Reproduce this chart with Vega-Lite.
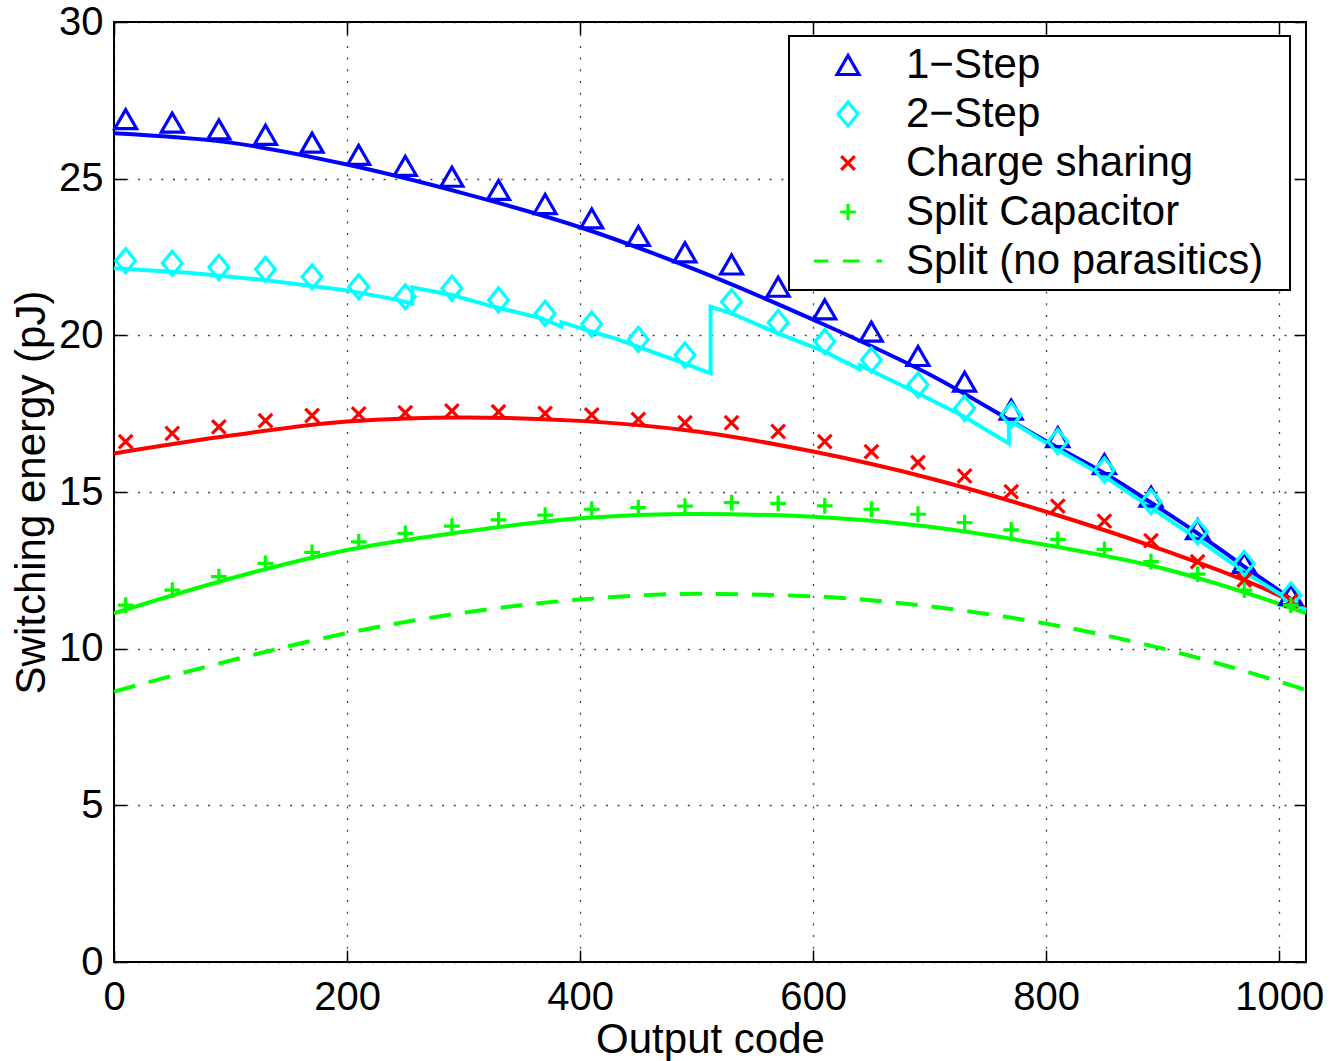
{
  "$schema": "https://vega.github.io/schema/vega-lite/v6.json",
  "width": 1192,
  "height": 940,
  "autosize": {"type": "none"},
  "padding": {"left": 114, "top": 22, "right": 24, "bottom": 99},
  "background": "#ffffff",
  "config": {
    "font": "Liberation Sans",
    "view": {"stroke": "#000000", "strokeWidth": 2},
    "axis": {
      "labelFont": "Liberation Sans", "labelFontSize": 40, "labelColor": "#000000",
      "titleFont": "Liberation Sans", "titleFontSize": 42, "titleFontWeight": "normal", "titleColor": "#000000",
      "tickColor": "#000000", "tickWidth": 1.5, "tickSize": -12,
      "domain": false, "labelFlush": false, "labelOverlap": false, "format": "d",
      "gridColor": "#000000", "gridOpacity": 0.75, "gridWidth": 1.3, "gridDash": [2, 9.7]
    },
    "legend": {"strokeWidth": 2}
  },
  "datasets": {
    "smooth": [
      {"s": "1\u2212Step", "x": 0, "y": 26.45}, {"s": "1\u2212Step", "x": 100, "y": 26.15}, {"s": "1\u2212Step", "x": 200, "y": 25.45}, {"s": "1\u2212Step", "x": 300, "y": 24.53}, {"s": "1\u2212Step", "x": 400, "y": 23.45}, {"s": "1\u2212Step", "x": 500, "y": 22.08}, {"s": "1\u2212Step", "x": 600, "y": 20.5}, {"s": "1\u2212Step", "x": 700, "y": 18.75}, {"s": "1\u2212Step", "x": 800, "y": 16.62}, {"s": "1\u2212Step", "x": 850, "y": 15.6}, {"s": "1\u2212Step", "x": 900, "y": 14.42}, {"s": "1\u2212Step", "x": 930, "y": 13.68}, {"s": "1\u2212Step", "x": 970, "y": 12.62}, {"s": "1\u2212Step", "x": 1000, "y": 11.85}, {"s": "1\u2212Step", "x": 1023, "y": 11.2},
      {"s": "Charge sharing", "x": 0, "y": 16.23}, {"s": "Charge sharing", "x": 100, "y": 16.8}, {"s": "Charge sharing", "x": 200, "y": 17.25}, {"s": "Charge sharing", "x": 300, "y": 17.38}, {"s": "Charge sharing", "x": 400, "y": 17.27}, {"s": "Charge sharing", "x": 500, "y": 16.93}, {"s": "Charge sharing", "x": 600, "y": 16.29}, {"s": "Charge sharing", "x": 700, "y": 15.44}, {"s": "Charge sharing", "x": 800, "y": 14.37}, {"s": "Charge sharing", "x": 900, "y": 13.15}, {"s": "Charge sharing", "x": 1000, "y": 11.7}, {"s": "Charge sharing", "x": 1023, "y": 11.28},
      {"s": "Split Capacitor", "x": 0, "y": 11.13}, {"s": "Split Capacitor", "x": 100, "y": 12.24}, {"s": "Split Capacitor", "x": 200, "y": 13.15}, {"s": "Split Capacitor", "x": 300, "y": 13.73}, {"s": "Split Capacitor", "x": 400, "y": 14.16}, {"s": "Split Capacitor", "x": 500, "y": 14.3}, {"s": "Split Capacitor", "x": 600, "y": 14.21}, {"s": "Split Capacitor", "x": 700, "y": 13.89}, {"s": "Split Capacitor", "x": 800, "y": 13.31}, {"s": "Split Capacitor", "x": 900, "y": 12.56}, {"s": "Split Capacitor", "x": 1000, "y": 11.43}, {"s": "Split Capacitor", "x": 1023, "y": 11.13}
    ],
    "step": [
      {"i": 0, "x": 0, "y": 22.14}, {"i": 1, "x": 64, "y": 22.0}, {"i": 2, "x": 128, "y": 21.77}, {"i": 3, "x": 197, "y": 21.45}, {"i": 4, "x": 237, "y": 21.18}, {"i": 5, "x": 256, "y": 21.02}, {"i": 6, "x": 256, "y": 21.53}, {"i": 7, "x": 290, "y": 21.29}, {"i": 8, "x": 320, "y": 20.97}, {"i": 9, "x": 367, "y": 20.54}, {"i": 10, "x": 384, "y": 20.28}, {"i": 11, "x": 384, "y": 20.42}, {"i": 12, "x": 410, "y": 20.12}, {"i": 13, "x": 430, "y": 19.9}, {"i": 14, "x": 490, "y": 19.1}, {"i": 15, "x": 512, "y": 18.79}, {"i": 16, "x": 512, "y": 20.91}, {"i": 17, "x": 530, "y": 20.7}, {"i": 18, "x": 570, "y": 20.06}, {"i": 19, "x": 610, "y": 19.48}, {"i": 20, "x": 640, "y": 18.92}, {"i": 21, "x": 640, "y": 19.05}, {"i": 22, "x": 690, "y": 18.15}, {"i": 23, "x": 730, "y": 17.4}, {"i": 24, "x": 768, "y": 16.55}, {"i": 25, "x": 768, "y": 17.3}, {"i": 26, "x": 810, "y": 16.34}, {"i": 27, "x": 850, "y": 15.5}, {"i": 28, "x": 890, "y": 14.5}, {"i": 29, "x": 930, "y": 13.5}, {"i": 30, "x": 970, "y": 12.45}, {"i": 31, "x": 1023, "y": 11.23}
    ],
    "dashed": [
      {"x": 0, "y": 8.63}, {"x": 100, "y": 9.62}, {"x": 200, "y": 10.5}, {"x": 300, "y": 11.15}, {"x": 400, "y": 11.57}, {"x": 500, "y": 11.75}, {"x": 600, "y": 11.67}, {"x": 700, "y": 11.35}, {"x": 800, "y": 10.8}, {"x": 900, "y": 10.0}, {"x": 1000, "y": 8.95}, {"x": 1023, "y": 8.68}
    ],
    "markers": [
      {"s": "1\u2212Step", "x": 10, "y": 26.9}, {"s": "1\u2212Step", "x": 50, "y": 26.79}, {"s": "1\u2212Step", "x": 90, "y": 26.57}, {"s": "1\u2212Step", "x": 130, "y": 26.4}, {"s": "1\u2212Step", "x": 170, "y": 26.15}, {"s": "1\u2212Step", "x": 210, "y": 25.76}, {"s": "1\u2212Step", "x": 250, "y": 25.41}, {"s": "1\u2212Step", "x": 290, "y": 25.06}, {"s": "1\u2212Step", "x": 330, "y": 24.64}, {"s": "1\u2212Step", "x": 370, "y": 24.19}, {"s": "1\u2212Step", "x": 410, "y": 23.73}, {"s": "1\u2212Step", "x": 450, "y": 23.17}, {"s": "1\u2212Step", "x": 490, "y": 22.65}, {"s": "1\u2212Step", "x": 530, "y": 22.26}, {"s": "1\u2212Step", "x": 570, "y": 21.55}, {"s": "1\u2212Step", "x": 610, "y": 20.83}, {"s": "1\u2212Step", "x": 650, "y": 20.12}, {"s": "1\u2212Step", "x": 690, "y": 19.34}, {"s": "1\u2212Step", "x": 730, "y": 18.52}, {"s": "1\u2212Step", "x": 770, "y": 17.63}, {"s": "1\u2212Step", "x": 810, "y": 16.75}, {"s": "1\u2212Step", "x": 850, "y": 15.89}, {"s": "1\u2212Step", "x": 890, "y": 14.85}, {"s": "1\u2212Step", "x": 930, "y": 13.81}, {"s": "1\u2212Step", "x": 970, "y": 12.74}, {"s": "1\u2212Step", "x": 1010, "y": 11.71},
      {"s": "2\u2212Step", "x": 10, "y": 22.38}, {"s": "2\u2212Step", "x": 50, "y": 22.3}, {"s": "2\u2212Step", "x": 90, "y": 22.17}, {"s": "2\u2212Step", "x": 130, "y": 22.11}, {"s": "2\u2212Step", "x": 170, "y": 21.87}, {"s": "2\u2212Step", "x": 210, "y": 21.55}, {"s": "2\u2212Step", "x": 250, "y": 21.23}, {"s": "2\u2212Step", "x": 290, "y": 21.5}, {"s": "2\u2212Step", "x": 330, "y": 21.13}, {"s": "2\u2212Step", "x": 370, "y": 20.7}, {"s": "2\u2212Step", "x": 410, "y": 20.36}, {"s": "2\u2212Step", "x": 450, "y": 19.87}, {"s": "2\u2212Step", "x": 490, "y": 19.37}, {"s": "2\u2212Step", "x": 530, "y": 21.07}, {"s": "2\u2212Step", "x": 570, "y": 20.41}, {"s": "2\u2212Step", "x": 610, "y": 19.8}, {"s": "2\u2212Step", "x": 650, "y": 19.21}, {"s": "2\u2212Step", "x": 690, "y": 18.42}, {"s": "2\u2212Step", "x": 730, "y": 17.67}, {"s": "2\u2212Step", "x": 770, "y": 17.46}, {"s": "2\u2212Step", "x": 810, "y": 16.61}, {"s": "2\u2212Step", "x": 850, "y": 15.7}, {"s": "2\u2212Step", "x": 890, "y": 14.69}, {"s": "2\u2212Step", "x": 930, "y": 13.73}, {"s": "2\u2212Step", "x": 970, "y": 12.72}, {"s": "2\u2212Step", "x": 1010, "y": 11.71},
      {"s": "Charge sharing", "x": 10, "y": 16.61}, {"s": "Charge sharing", "x": 50, "y": 16.87}, {"s": "Charge sharing", "x": 90, "y": 17.08}, {"s": "Charge sharing", "x": 130, "y": 17.28}, {"s": "Charge sharing", "x": 170, "y": 17.44}, {"s": "Charge sharing", "x": 210, "y": 17.49}, {"s": "Charge sharing", "x": 250, "y": 17.53}, {"s": "Charge sharing", "x": 290, "y": 17.59}, {"s": "Charge sharing", "x": 330, "y": 17.56}, {"s": "Charge sharing", "x": 370, "y": 17.51}, {"s": "Charge sharing", "x": 410, "y": 17.46}, {"s": "Charge sharing", "x": 450, "y": 17.32}, {"s": "Charge sharing", "x": 490, "y": 17.21}, {"s": "Charge sharing", "x": 530, "y": 17.21}, {"s": "Charge sharing", "x": 570, "y": 16.93}, {"s": "Charge sharing", "x": 610, "y": 16.61}, {"s": "Charge sharing", "x": 650, "y": 16.29}, {"s": "Charge sharing", "x": 690, "y": 15.94}, {"s": "Charge sharing", "x": 730, "y": 15.51}, {"s": "Charge sharing", "x": 770, "y": 15.01}, {"s": "Charge sharing", "x": 810, "y": 14.55}, {"s": "Charge sharing", "x": 850, "y": 14.07}, {"s": "Charge sharing", "x": 890, "y": 13.45}, {"s": "Charge sharing", "x": 930, "y": 12.78}, {"s": "Charge sharing", "x": 970, "y": 12.19}, {"s": "Charge sharing", "x": 1010, "y": 11.53},
      {"s": "Split Capacitor", "x": 10, "y": 11.39}, {"s": "Split Capacitor", "x": 50, "y": 11.87}, {"s": "Split Capacitor", "x": 90, "y": 12.3}, {"s": "Split Capacitor", "x": 130, "y": 12.72}, {"s": "Split Capacitor", "x": 170, "y": 13.07}, {"s": "Split Capacitor", "x": 210, "y": 13.41}, {"s": "Split Capacitor", "x": 250, "y": 13.68}, {"s": "Split Capacitor", "x": 290, "y": 13.91}, {"s": "Split Capacitor", "x": 330, "y": 14.11}, {"s": "Split Capacitor", "x": 370, "y": 14.26}, {"s": "Split Capacitor", "x": 410, "y": 14.45}, {"s": "Split Capacitor", "x": 450, "y": 14.5}, {"s": "Split Capacitor", "x": 490, "y": 14.55}, {"s": "Split Capacitor", "x": 530, "y": 14.66}, {"s": "Split Capacitor", "x": 570, "y": 14.64}, {"s": "Split Capacitor", "x": 610, "y": 14.56}, {"s": "Split Capacitor", "x": 650, "y": 14.45}, {"s": "Split Capacitor", "x": 690, "y": 14.29}, {"s": "Split Capacitor", "x": 730, "y": 14.02}, {"s": "Split Capacitor", "x": 770, "y": 13.79}, {"s": "Split Capacitor", "x": 810, "y": 13.49}, {"s": "Split Capacitor", "x": 850, "y": 13.17}, {"s": "Split Capacitor", "x": 890, "y": 12.78}, {"s": "Split Capacitor", "x": 930, "y": 12.38}, {"s": "Split Capacitor", "x": 970, "y": 11.87}, {"s": "Split Capacitor", "x": 1010, "y": 11.39}
    ]
  },
  "resolve": {"axis": {"x": "independent", "y": "independent"}},
  "layer": [
    {
      "data": {"name": "smooth"},
      "mark": {"type": "line", "interpolate": "monotone", "strokeWidth": 4, "strokeCap": "butt"},
      "encoding": {
        "x": {"field": "x", "type": "quantitative",
              "scale": {"domain": [0, 1023], "nice": false, "zero": false},
              "axis": {"orient": "bottom", "values": [0, 200, 400, 600, 800, 1000], "grid": true, "title": "Output code", "labelPadding": 27, "titlePadding": 2}},
        "y": {"field": "y", "type": "quantitative",
              "scale": {"domain": [0, 30], "nice": false, "zero": true},
              "axis": {"orient": "left", "values": [0, 5, 10, 15, 20, 25, 30], "grid": true, "title": "Switching energy (pJ)", "labelPadding": 23, "titlePadding": 5}},
        "stroke": {"field": "s", "type": "nominal",
                  "scale": {"domain": ["1\u2212Step", "Charge sharing", "Split Capacitor"], "range": ["#0000ff", "#ff0000", "#00ff00"]},
                  "legend": null}
      }
    },
    {
      "data": {"name": "step"},
      "mark": {"type": "line", "interpolate": "linear", "strokeWidth": 4, "strokeCap": "butt", "strokeJoin": "miter", "color": "#00ffff"},
      "encoding": {
        "x": {"field": "x", "type": "quantitative", "axis": null},
        "y": {"field": "y", "type": "quantitative", "axis": null},
        "order": {"field": "i", "type": "quantitative"}
      }
    },
    {
      "data": {"name": "dashed"},
      "mark": {"type": "line", "interpolate": "monotone", "strokeWidth": 4, "strokeCap": "butt", "strokeDash": [22, 14], "color": "#00ff00"},
      "encoding": {
        "x": {"field": "x", "type": "quantitative",
              "axis": {"orient": "top", "values": [0, 200, 400, 600, 800, 1000], "labels": false, "grid": false, "title": null}},
        "y": {"field": "y", "type": "quantitative",
              "axis": {"orient": "right", "values": [0, 5, 10, 15, 20, 25, 30], "labels": false, "grid": false, "title": null}}
      }
    },
    {
      "data": {"name": "markers"},
      "mark": {"type": "point", "filled": false, "size": 480, "opacity": 1},
      "encoding": {
        "x": {"field": "x", "type": "quantitative", "axis": null},
        "y": {"field": "y", "type": "quantitative", "axis": null},
        "strokeWidth": {"field": "s", "type": "ordinal",
                  "scale": {"domain": ["1\u2212Step", "2\u2212Step", "Charge sharing", "Split Capacitor", "Split (no parasitics)"], "range": [3.2, 3.2, 4.2, 4.2, 3.2]},
                  "legend": null},
        "color": {"field": "s", "type": "nominal",
                  "scale": {"domain": ["1\u2212Step", "2\u2212Step", "Charge sharing", "Split Capacitor", "Split (no parasitics)"], "range": ["#0000ff", "#00ffff", "#ff0000", "#00ff00", "#00ff00"]},
                  "legend": {"title": " ", "titleOrient": "right", "titleFontSize": 1, "titlePadding": 19, "orient": "none", "legendX": 675, "legendY": 14, "fillColor": "#ffffff", "strokeColor": "#000000", "padding": 8, "labelFont": "Liberation Sans", "labelFontSize": 42, "labelColor": "#000000", "labelLimit": 800, "symbolSize": 480, "symbolStrokeWidth": 3.4, "symbolOffset": 30, "labelOffset": 37, "rowPadding": 7}},
        "shape": {"field": "s", "type": "nominal",
                  "scale": {"domain": ["1\u2212Step", "2\u2212Step", "Charge sharing", "Split Capacitor", "Split (no parasitics)"], "range": ["triangle-up", "M0,-1.1L0.9,0L0,1.1L-0.9,0Z", "M-0.62,-0.62L0.62,0.62M-0.62,0.62L0.62,-0.62", "M-0.72,0L0.72,0M0,-0.72L0,0.72", "M-3.13,0L-1.79,0M-0.45,0L1.07,0M2.59,0L3.13,0"]},
                  "legend": {"title": " ", "titleOrient": "right", "titleFontSize": 1, "titlePadding": 19, "orient": "none", "legendX": 675, "legendY": 14, "fillColor": "#ffffff", "strokeColor": "#000000", "padding": 8, "labelFont": "Liberation Sans", "labelFontSize": 42, "labelColor": "#000000", "labelLimit": 800, "symbolSize": 480, "symbolStrokeWidth": 3.4, "symbolOffset": 30, "labelOffset": 37, "rowPadding": 7}}
      }
    }
  ]
}
